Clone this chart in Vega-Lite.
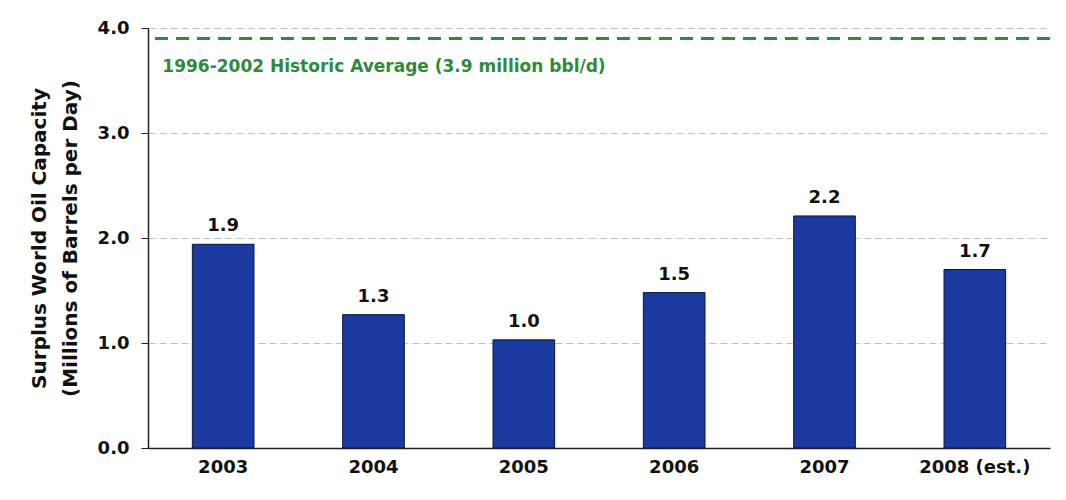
{
  "$schema": "https://vega.github.io/schema/vega-lite/v6.json",
  "width": 902,
  "height": 420,
  "autosize": {"type": "none"},
  "padding": {"left": 148, "top": 28, "right": 16, "bottom": 52},
  "background": "white",
  "config": {
    "view": {"stroke": null},
    "font": "DejaVu Sans"
  },
  "layer": [
    {
      "data": {"values": [
        {"year": "2003", "capacity": 1.94, "label": "1.9"},
        {"year": "2004", "capacity": 1.27, "label": "1.3"},
        {"year": "2005", "capacity": 1.03, "label": "1.0"},
        {"year": "2006", "capacity": 1.48, "label": "1.5"},
        {"year": "2007", "capacity": 2.21, "label": "2.2"},
        {"year": "2008 (est.)", "capacity": 1.70, "label": "1.7"}
      ]},
      "layer": [
        {
          "mark": {"type": "bar", "color": "#1b3aa0", "stroke": "#0a1540", "strokeWidth": 1},
          "encoding": {
            "x": {
              "field": "year", "type": "nominal", "sort": null,
              "scale": {"paddingInner": 0.59, "paddingOuter": 0.295},
              "axis": {
                "title": null, "labelAngle": 0, "labelFontSize": 18, "labelFontWeight": "bold",
                "labelColor": "#111", "labelPadding": 10, "ticks": false,
                "domainColor": "#222", "domainWidth": 1.5
              }
            },
            "y": {
              "field": "capacity", "type": "quantitative",
              "scale": {"domain": [0, 4]},
              "axis": {
                "title": ["Surplus World Oil Capacity", "(Millions of Barrels per Day)"],
                "titleFontSize": 20, "titleFontWeight": "bold", "titleColor": "#111",
                "titlePadding": 17, "titleLineHeight": 31,
                "values": [0, 1, 2, 3, 4], "format": ".1f",
                "labelFontSize": 18, "labelFontWeight": "bold", "labelColor": "#111",
                "labelPadding": 12, "tickSize": 7, "tickColor": "#222", "domainColor": "#222", "domainWidth": 1.5,
                "grid": true, "gridColor": "#c9bcb6", "gridDash": [7, 4], "gridWidth": 1
              }
            }
          }
        },
        {
          "mark": {"type": "text", "baseline": "bottom", "dy": -9, "fontSize": 18, "fontWeight": "bold", "color": "#111"},
          "encoding": {
            "x": {"field": "year", "type": "nominal", "sort": null},
            "y": {"field": "capacity", "type": "quantitative"},
            "text": {"field": "label"}
          }
        }
      ]
    },
    {
      "data": {"values": [{"avg": 3.9, "year": "2003", "note": "1996-2002 Historic Average (3.9 million bbl/d)"}]},
      "layer": [
        {
          "mark": {"type": "rule", "color": "#2e8b3a", "strokeWidth": 3, "strokeDash": [13, 8]},
          "encoding": {"y": {"field": "avg", "type": "quantitative"}}
        },
        {
          "mark": {"type": "text", "align": "left", "baseline": "middle", "dx": -30, "dy": 28, "fontSize": 17, "fontWeight": "bold", "color": "#2e8b3a"},
          "encoding": {
            "x": {"field": "year", "type": "nominal", "bandPosition": 0},
            "y": {"field": "avg", "type": "quantitative"},
            "text": {"field": "note"}
          }
        }
      ]
    }
  ]
}
